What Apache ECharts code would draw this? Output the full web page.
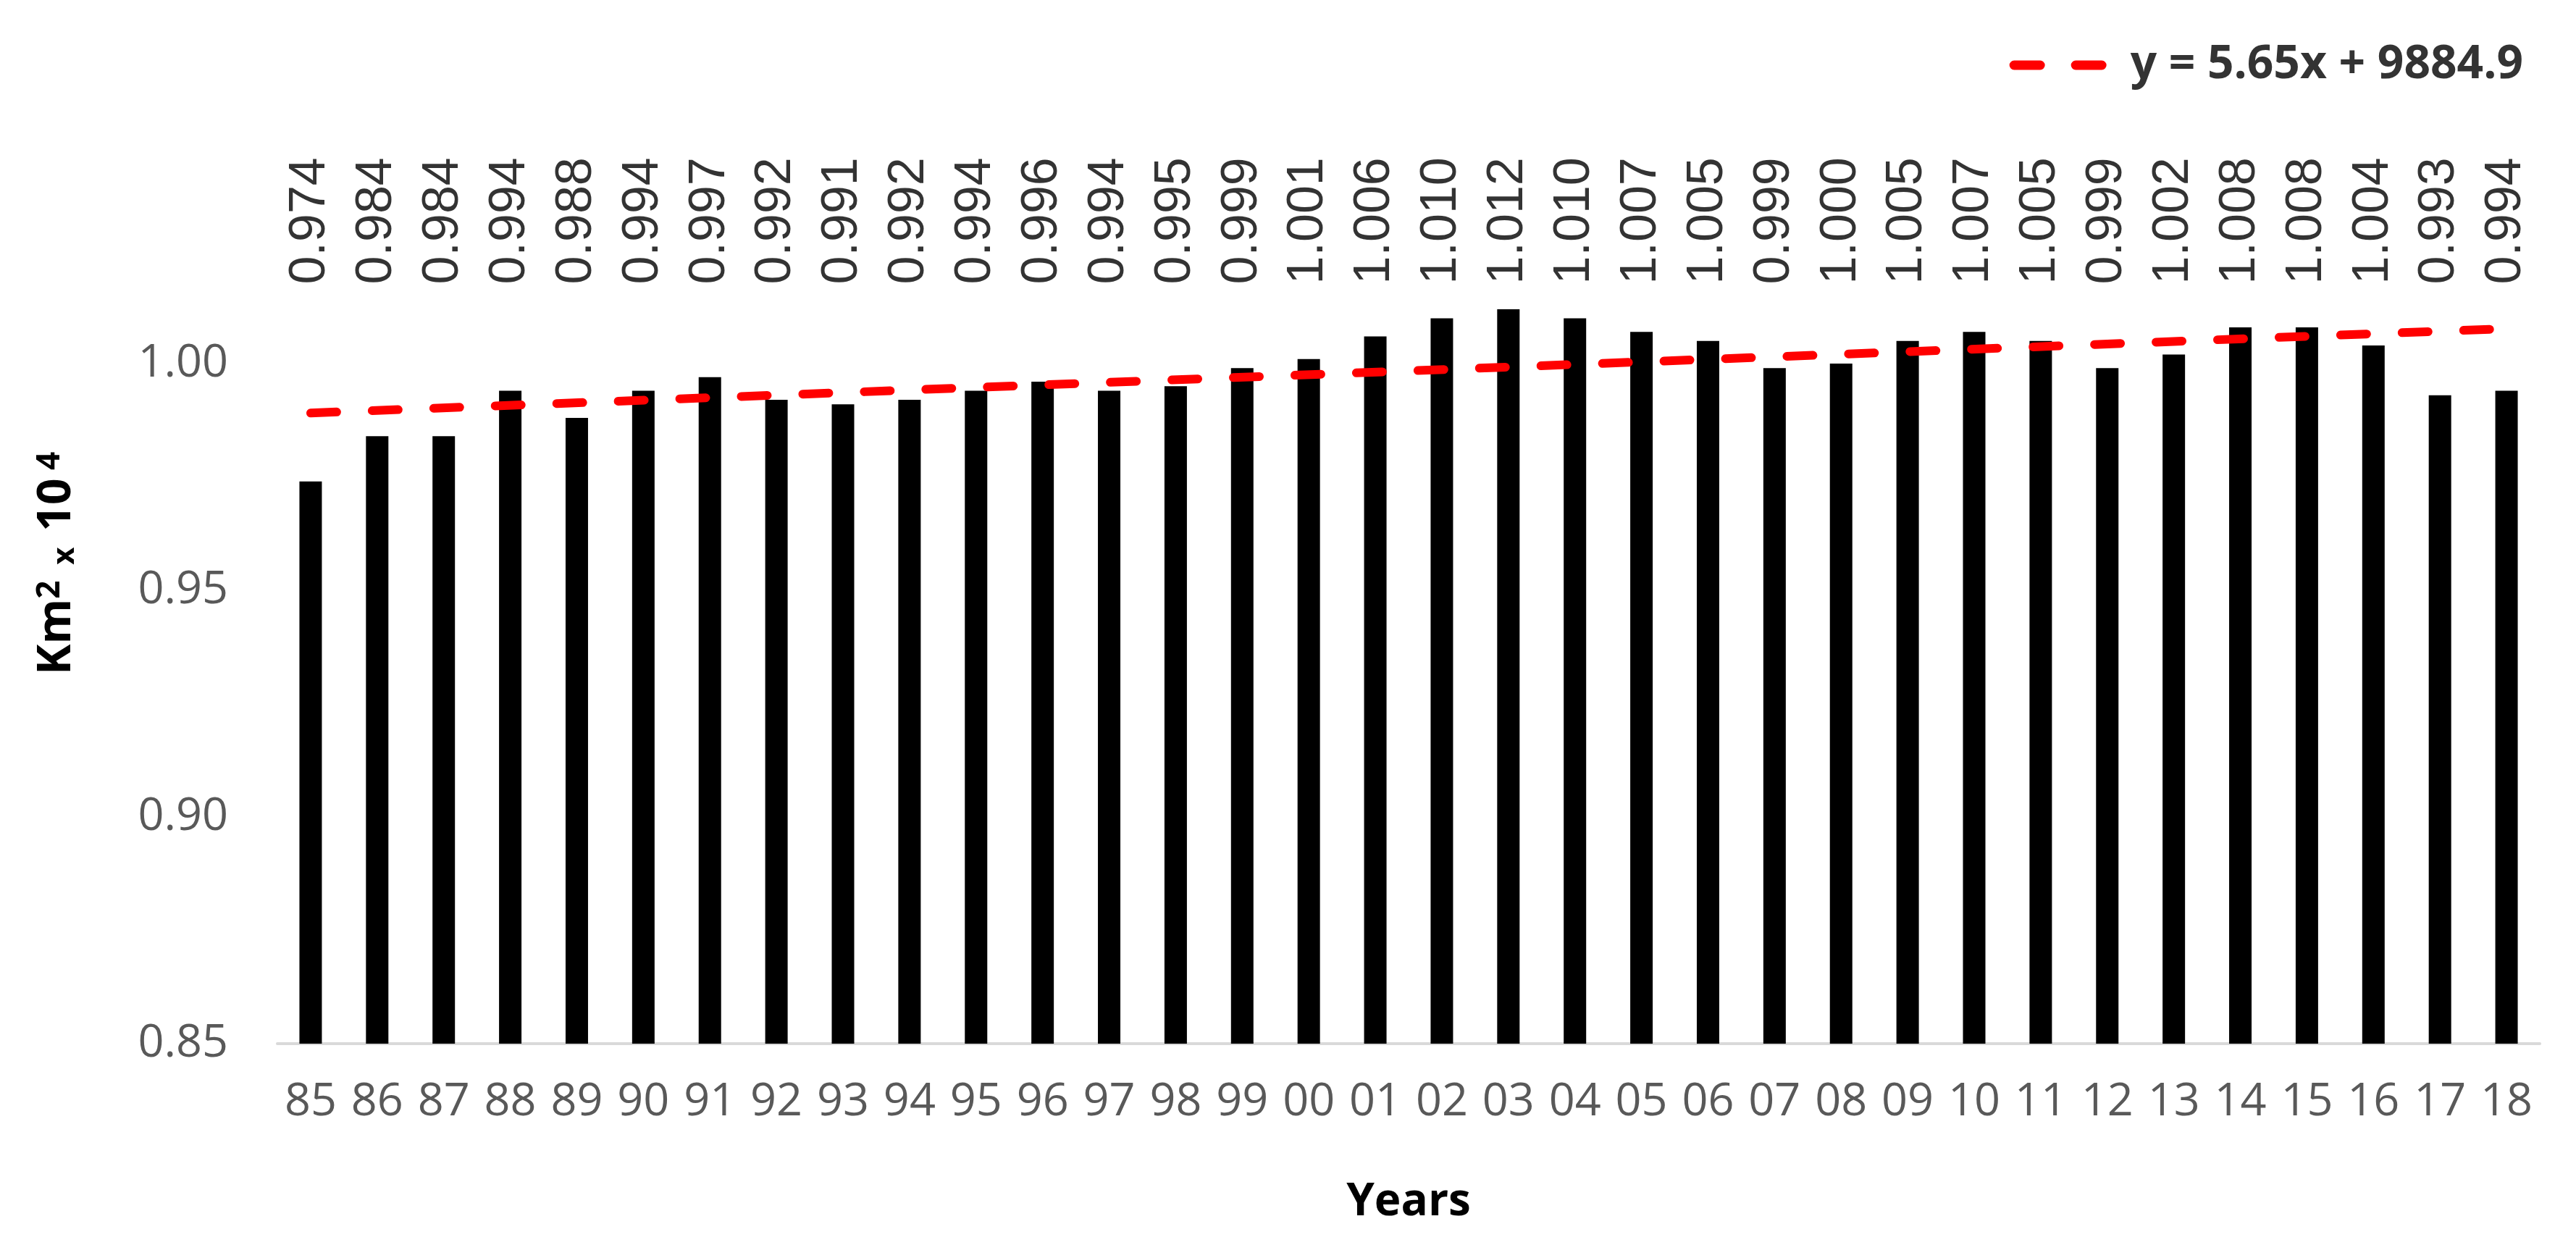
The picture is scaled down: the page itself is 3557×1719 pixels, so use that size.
<!DOCTYPE html>
<html>
<head>
<meta charset="utf-8">
<title>Km2 x 10^4 by year</title>
<script src="https://cdn.jsdelivr.net/npm/echarts@6.0.0/dist/echarts.min.js"></script>
<style>
  html, body { margin: 0; padding: 0; background: #fff; }
  #chart { width: 3557px; height: 1719px; }
</style>
</head>
<body>
<div id="chart"></div>
<script>
// data
var years = ['85','86','87','88','89','90','91','92','93','94','95','96','97','98','99',
             '00','01','02','03','04','05','06','07','08','09','10','11','12','13','14',
             '15','16','17','18'];
var values = [0.974, 0.984, 0.984, 0.994, 0.988, 0.994, 0.997, 0.992, 0.991, 0.992,
              0.994, 0.996, 0.994, 0.995, 0.999, 1.001, 1.006, 1.010, 1.012, 1.010,
              1.007, 1.005, 0.999, 1.000, 1.005, 1.007, 1.005, 0.999, 1.002, 1.008,
              1.008, 1.004, 0.993, 0.994];
// linear trend y = 5.65x + 9884.9 (km2), ends at first and last year, in 10^4 km2
var trendEnds = [0.9891, 1.0077];
var trendName = 'y = 5.65x + 9884.9';
var yTicks = [0.85, 0.90, 0.95, 1.00, 1.05];

// height where the value labels sit (all labels share one row)
var labelRow = 1.0315;

var chart = echarts.init(document.getElementById('chart'));

var calibri = 'Open Sans';

var option = {
    backgroundColor: '#fff',
    animation: false,
    grid: { left: 383, right: 50, top: 189, bottom: 278 },
    legend: {
        data: [trendName],
        right: 73,
        top: 58,
        padding: 0,
        itemWidth: 134,
        itemHeight: 13,
        icon: 'path://M6.5,0 H42.5 A6.5,6.5 0 0 1 42.5,13 H6.5 A6.5,6.5 0 0 1 6.5,0 Z M91.5,0 H127.5 A6.5,6.5 0 0 1 127.5,13 H91.5 A6.5,6.5 0 0 1 91.5,0 Z',
        itemStyle: { color: '#ff0000', borderWidth: 0 },
        textStyle: {
            fontFamily: calibri,
            fontWeight: 'bold',
            fontSize: 64,
            color: '#333333',
            padding: [0, 0, 0, 28]
        }
    },
    xAxis: {
        type: 'category',
        data: years,
        axisLine: { lineStyle: { color: '#d9d9d9', width: 4 } },
        axisTick: { show: false },
        axisLabel: {
            interval: 0,
            margin: 50,
            color: '#595959',
            fontFamily: calibri,
            fontSize: 63
        },
        name: 'Years',
        nameLocation: 'middle',
        nameGap: 188,
        nameTextStyle: {
            fontFamily: calibri,
            fontWeight: 'bold',
            fontSize: 62,
            color: '#000'
        }
    },
    yAxis: {
        type: 'value',
        min: yTicks[0],
        max: yTicks[yTicks.length - 1],
        interval: 0.05,
        splitLine: { show: false },
        axisLine: { show: false },
        axisTick: { show: false },
        axisLabel: {
            showMaxLabel: false,
            margin: 68,
            color: '#595959',
            fontFamily: calibri,
            fontSize: 63,
            formatter: function (v) { return v.toFixed(2); }
        },
        name: '{b|Km}{s|2}{x|  x  }{b|10}{s| 4}',
        nameLocation: 'middle',
        nameGap: 272,
        nameTextStyle: {
            color: '#000',
            padding: [0, 0, 0, 74],
            rich: {
                b: { fontFamily: calibri, fontWeight: 'bold', fontSize: 64, color: '#000' },
                s: { fontFamily: calibri, fontWeight: 'bold', fontSize: 44, color: '#000', verticalAlign: 'top' },
                x: { fontFamily: calibri, fontWeight: 'bold', fontSize: 42, color: '#000', verticalAlign: 'bottom' }
            }
        }
    },
    series: [
        {
            name: 'area',
            type: 'bar',
            data: values,
            barWidth: 31,
            itemStyle: { color: '#000' },
            z: 2
        },
        {
            name: 'labels',
            type: 'scatter',
            data: values.map(function () { return labelRow; }),
            symbolSize: 1,
            itemStyle: { color: 'rgba(0,0,0,0)' },
            silent: true,
            label: {
                show: true,
                position: 'inside',
                rotate: 90,
                fontFamily: 'Liberation Sans',
                fontSize: 70,
                color: '#000',
                formatter: function (p) { return values[p.dataIndex].toFixed(3); }
            },
            z: 3
        },
        {
            name: trendName,
            type: 'line',
            data: [[years[0], trendEnds[0]], [years[years.length - 1], trendEnds[1]]],
            symbol: 'none',
            lineStyle: { color: '#ff0000', width: 12, type: [36, 49], cap: 'round' },
            itemStyle: { color: '#ff0000' },
            z: 4
        }
    ]
};

chart.setOption(option);
</script>
</body>
</html>
